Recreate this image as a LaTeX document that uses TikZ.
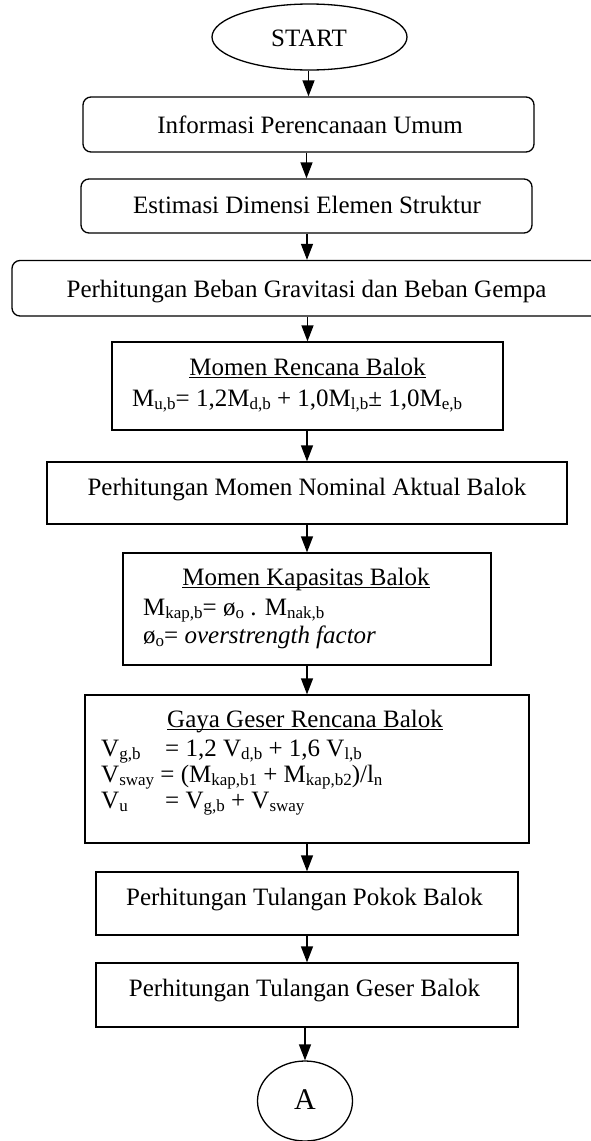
\documentclass[tikz,border=0pt]{standalone}
\usepackage{fontspec}
\setmainfont{Liberation Serif}
\usetikzlibrary{arrows.meta,shapes.geometric}
\newcommand{\sbs}[1]{\raisebox{-3pt}{\fontsize{17}{17}\selectfont #1}}
\newcommand{\myul}[1]{\setbox0\hbox{#1}\rlap{\rule[-2.8pt]{\wd0}{1.3pt}}\box0}
\begin{document}
\begin{tikzpicture}[x=1pt,y=-1pt,
  every node/.style={font=\fontsize{25}{30}\selectfont},
  box/.style={draw,line width=1.3pt,inner sep=0pt,anchor=center},
  rbox/.style={box,rounded corners=8pt},
  term/.style={draw,ellipse,line width=1.3pt,inner sep=0pt},
  arr/.style={line width=1.3pt,-{Triangle[length=16pt,width=12pt]}},
  txt/.style={inner sep=0pt,anchor=base west},
  ctxt/.style={inner sep=0pt,anchor=base}]
\useasboundingbox (0,0) rectangle (590,1141);
\node[term,minimum width=195pt,minimum height=66pt] (start) at (309.5,37) {};
\node[ctxt] (tstart) at (309,46) {START};
\node[rbox,minimum width=451pt,minimum height=55pt] (b1) at (308.5,124.5) {};
\node[ctxt] (t1) at (310,133) {Informasi Perencanaan Umum};
\node[rbox,minimum width=451pt,minimum height=54pt] (b2) at (306.5,206) {};
\node[ctxt] (t2) at (307,213) {Estimasi Dimensi Elemen Struktur};
\node[rbox,minimum width=590pt,minimum height=55.5pt] (b3) at (307,288.25) {};
\node[ctxt] (t3) at (306.5,297) {Perhitungan Beban Gravitasi dan Beban Gempa};
\node[box,minimum width=391pt,minimum height=88pt] (b4) at (307.5,386) {};
\node[ctxt] (t4a) at (307.5,375.5) {\myul{Momen Rencana Balok}};
\node[txt] (t4b) at (132,406.5) {M\sbs{u,b}= 1,2M\sbs{d,b} + 1,0M\sbs{l,b}± 1,0M\sbs{e,b}};
\node[box,minimum width=520pt,minimum height=62pt] (b5) at (307,493) {};
\node[ctxt] (t5) at (307,495) {Perhitungan Momen Nominal Aktual Balok};
\node[box,minimum width=368pt,minimum height=112pt] (b6) at (307,609) {};
\node[ctxt] (t6a) at (306,585.5) {\myul{Momen Kapasitas Balok}};
\node[txt] (t6b) at (143,615.5) {M\sbs{kap,b}= ø\sbs{o} . M\sbs{nak,b}};
\node[txt] (t6c) at (143,643) {ø\sbs{o}= \textit{overstrength factor}};
\node[box,minimum width=444pt,minimum height=148pt] (b7) at (307,769) {};
\node[ctxt] (t7a) at (305,727) {\myul{Gaya Geser Rencana Balok}};
\node[txt] (t7b) at (101,756.5) {V\sbs{g,b}};
\node[txt] (t7c) at (165,756.5) {= 1,2 V\sbs{d,b} + 1,6 V\sbs{l,b}};
\node[txt] (t7d) at (101,782) {V\sbs{sway} = (M\sbs{kap,b1} + M\sbs{kap,b2})/l\sbs{n}};
\node[txt] (t7e) at (101,808) {V\sbs{u}};
\node[txt] (t7f) at (165,808) {= V\sbs{g,b} + V\sbs{sway}};
\node[box,minimum width=422pt,minimum height=63pt] (b8) at (307,903.5) {};
\node[ctxt] (t8) at (304.5,905) {Perhitungan Tulangan Pokok Balok};
\node[box,minimum width=422pt,minimum height=64pt] (b9) at (307,995) {};
\node[ctxt] (t9) at (304.5,996) {Perhitungan Tulangan Geser Balok};
\node[term,minimum width=95pt,minimum height=80pt] (A) at (305,1101) {};
\node[ctxt,font=\fontsize{30}{30}\selectfont] (tA) at (305,1109) {A};
\draw[arr] (b1.north |- start.south) -- (b1.north);
\draw[arr] (b2.north |- b1.south) -- (b2.north);
\draw[arr] (b3.north |- b2.south) -- (b3.north);
\draw[arr] (b4.north |- b3.south) -- (b4.north);
\draw[arr] (b5.north |- b4.south) -- (b5.north);
\draw[arr] (b6.north |- b5.south) -- (b6.north);
\draw[arr] (b7.north |- b6.south) -- (b7.north);
\draw[arr] (b8.north |- b7.south) -- (b8.north);
\draw[arr] (b9.north |- b8.south) -- (b9.north);
\draw[arr] (A.north |- b9.south) -- (A.north);
\end{tikzpicture}
\end{document}
